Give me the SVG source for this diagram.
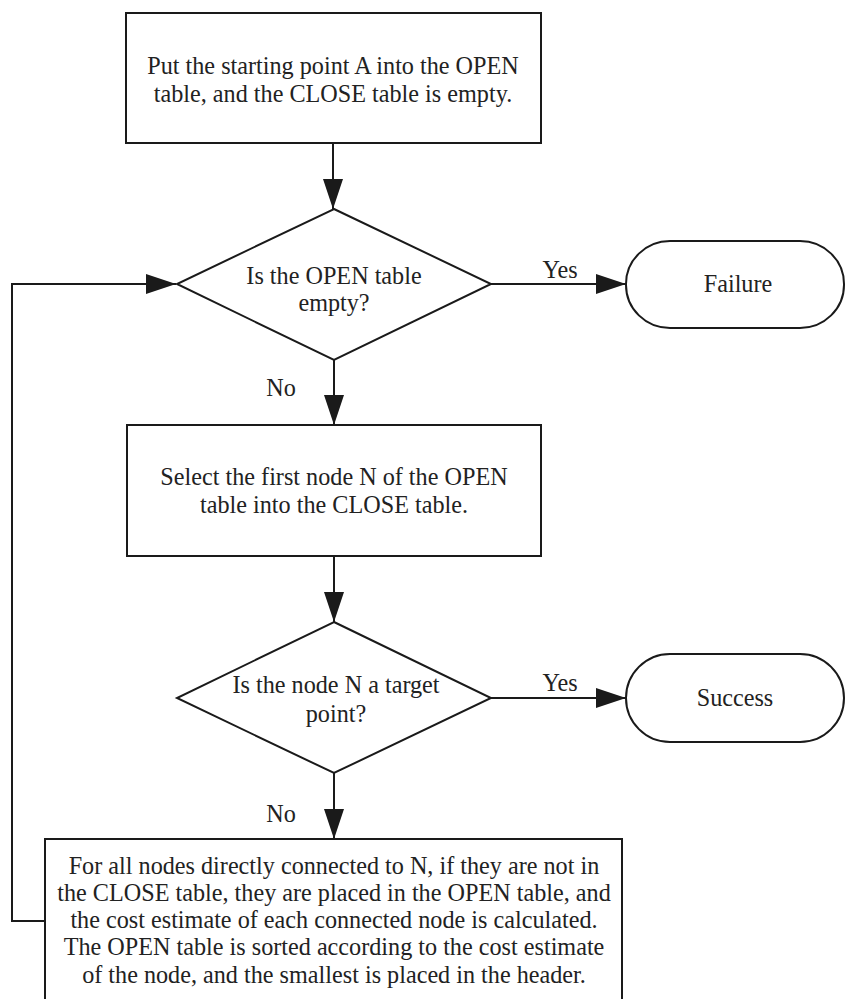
<svg xmlns="http://www.w3.org/2000/svg" width="845" height="999" viewBox="0 0 845 999">
<defs>
<marker id="arr" markerUnits="userSpaceOnUse" markerWidth="30" markerHeight="20" refX="30" refY="10" orient="auto">
<path d="M0,0 L30,10 L0,20 Z" fill="#1a1a1a"/>
</marker>
</defs>
<style>
.s{fill:#fff;stroke:#1a1a1a;stroke-width:2}
.c{fill:none;stroke:#1a1a1a;stroke-width:2;marker-end:url(#arr)}
text{font-family:'Liberation Serif','Times New Roman',serif;font-size:24.2px;fill:#222;text-anchor:middle}
</style>
<rect width="845" height="999" fill="#fff"/>
<g id="connectors">
<line class="c" x1="333" y1="143" x2="333" y2="209"/>
<line class="c" x1="490" y1="284" x2="626" y2="284"/>
<line class="c" x1="334" y1="360" x2="334" y2="425"/>
<line class="c" x1="334" y1="556" x2="334" y2="622"/>
<line class="c" x1="491" y1="698" x2="626" y2="698"/>
<line class="c" x1="334" y1="773" x2="334" y2="839"/>
<polyline class="c" points="45,921 12,921 12,284 176,284"/>
<text x="560" y="278">Yes</text>
<text x="281" y="396">No</text>
<text x="560" y="691">Yes</text>
<text x="281" y="822">No</text>
</g>
<g id="start">
<rect class="s" x="126" y="13" width="415" height="130"/>
<text x="333" y="74">Put the starting point A into the OPEN</text>
<text x="333" y="102">table, and the CLOSE table is empty.</text>
</g>
<g id="open-empty">
<polygon class="s" points="334,209 491,284 334,360 177,284"/>
<text x="334" y="284">Is the OPEN table</text>
<text x="334" y="311">empty?</text>
</g>
<g id="failure">
<rect class="s" x="626" y="241" width="218" height="87" rx="44" ry="43"/>
<text x="738" y="292">Failure</text>
</g>
<g id="select">
<rect class="s" x="127" y="425" width="414" height="131"/>
<text x="334" y="485">Select the first node N of the OPEN</text>
<text x="334" y="513">table into the CLOSE table.</text>
</g>
<g id="target">
<polygon class="s" points="334,622 491,698 334,773 177,698"/>
<text x="336" y="693">Is the node N a target</text>
<text x="336" y="722">point?</text>
</g>
<g id="success">
<rect class="s" x="626" y="654" width="218" height="88" rx="44" ry="44"/>
<text x="735" y="706">Success</text>
</g>
<g id="expand">
<rect class="s" x="45" y="839" width="577" height="170"/>
<text x="334" y="874">For all nodes directly connected to N, if they are not in</text>
<text x="334" y="901">the CLOSE table, they are placed in the OPEN table, and</text>
<text x="334" y="928">the cost estimate of each connected node is calculated.</text>
<text x="334" y="955">The OPEN table is sorted according to the cost estimate</text>
<text x="334" y="983">of the node, and the smallest is placed in the header.</text>
</g>
</svg>
